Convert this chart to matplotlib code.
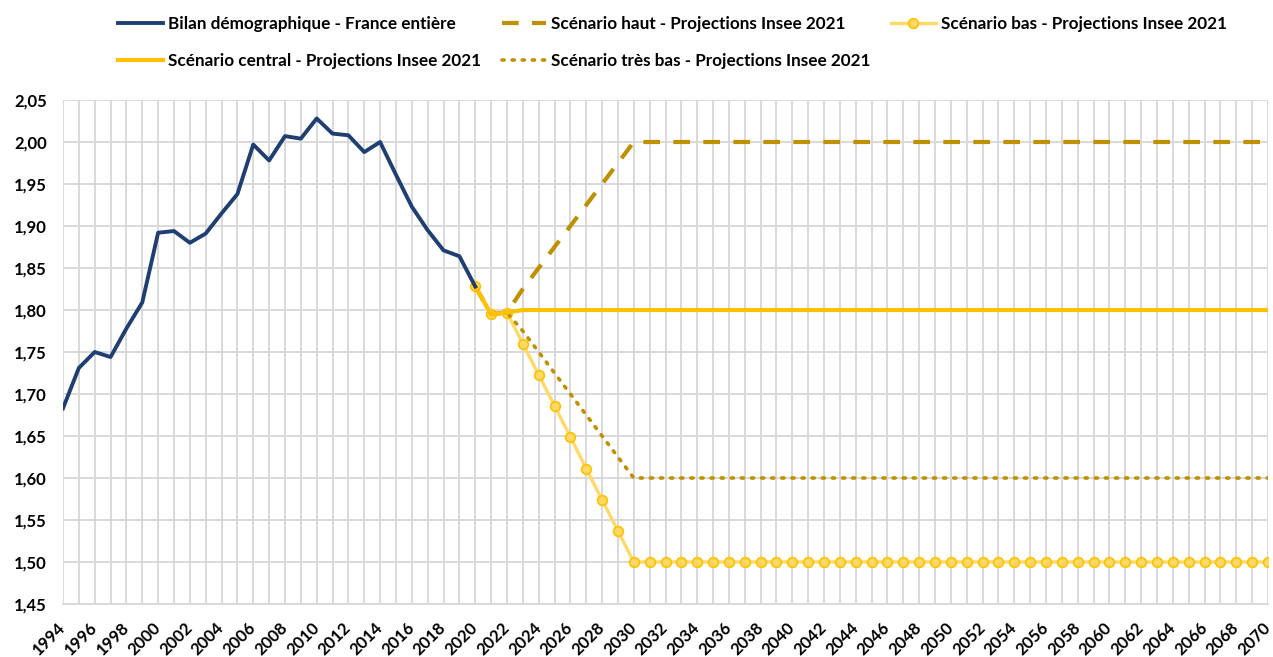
import matplotlib
matplotlib.use("Agg")
import matplotlib.pyplot as plt

plt.rcParams['font.family'] = ['Lato', 'DejaVu Sans']
plt.rcParams['font.weight'] = 'bold'

# ---- data ----
years_hist = list(range(1994, 2021))
bilan = [1.683, 1.731, 1.750, 1.744, 1.778, 1.809, 1.892, 1.894, 1.880, 1.891,
         1.915, 1.938, 1.997, 1.978, 2.007, 2.004, 2.028, 2.010, 2.008, 1.988,
         2.000, 1.961, 1.923, 1.895, 1.871, 1.864, 1.828]

years_proj = list(range(2020, 2071))
n_after = 2070 - 2030
central = [1.828, 1.795, 1.797] + [1.80] * (2070 - 2022)
haut = [1.828, 1.795, 1.797, 1.825, 1.85, 1.875, 1.90, 1.925, 1.95, 1.975, 2.00] + [2.00] * n_after
bas = [1.828, 1.795, 1.797, 1.760, 1.723, 1.686, 1.649, 1.611, 1.574, 1.537, 1.50] + [1.50] * n_after
tres_bas = [1.828, 1.795, 1.797, 1.775, 1.75, 1.725, 1.70, 1.675, 1.65, 1.625, 1.60] + [1.60] * n_after

labels = ["Bilan démographique - France entière",
          "Scénario haut - Projections Insee 2021",
          "Scénario bas - Projections Insee 2021",
          "Scénario central - Projections Insee 2021",
          "Scénario très bas - Projections Insee 2021"]

yticks = [1.45, 1.50, 1.55, 1.60, 1.65, 1.70, 1.75, 1.80, 1.85, 1.90, 1.95, 2.00, 2.05]

# ---- figure ----
fig = plt.figure(figsize=(12.73, 6.57), dpi=100)
W, H = 1273, 657
ax = fig.add_axes([63 / W, 1 - 604 / H, (1268 - 63) / W, (604 - 100) / H])

navy = '#1F3F73'
gold = '#FFC000'
dark_gold = '#BF9000'
light = '#FFD966'

l_bas, = ax.plot(years_proj, bas, color=light, lw=2.4, marker='o', ms=7,
                 mfc=light, mec=gold, mew=1.2, zorder=3, label=labels[2])
l_tb, = ax.plot(years_proj, tres_bas, color=dark_gold, lw=2.6, ls=(0, (0.6, 2.2)),
                dash_capstyle='round', zorder=4, label=labels[4])
l_haut, = ax.plot(years_proj, haut, color=dark_gold, lw=3, ls=(0, (4, 3.2)),
                  zorder=4, label=labels[1])
l_c, = ax.plot(years_proj, central, color=gold, lw=3, zorder=5, label=labels[3])
l_b, = ax.plot(years_hist, bilan, color=navy, lw=2.8, zorder=6, label=labels[0])

ax.set_xlim(1994, 2070)
ax.set_ylim(1.45, 2.05)
ax.set_xticks(range(1994, 2071))
ax.set_xticklabels([str(y) if (y - 1994) % 2 == 0 else '' for y in range(1994, 2071)],
                   rotation=45, ha='right', va='center', rotation_mode='anchor',
                   fontsize=12, fontweight='bold')
ax.set_yticks(yticks)
ax.set_yticklabels([f"{v:.2f}".replace('.', ',') for v in yticks], fontsize=12,
                   fontweight='bold')
ax.tick_params(axis='both', length=0)
ax.tick_params(axis='y', pad=11.5)
ax.tick_params(axis='x', pad=15)
ax.grid(True, color='#D9D9D9', lw=1.4)
ax.set_axisbelow(True)
for s in ax.spines.values():
    s.set_visible(False)
ax.spines['bottom'].set_visible(True)
ax.spines['bottom'].set_color('#D9D9D9')
ax.spines['bottom'].set_linewidth(1.4)

handles = [l_b, l_c, l_haut, l_tb, l_bas]
hl = [h.get_label() for h in handles]
fig.legend(handles, hl, ncol=3, loc='upper left', bbox_to_anchor=(103 / W, 1 - 1 / H),
           frameon=False, handlelength=2.6, handletextpad=0.3,
           columnspacing=1.2, labelspacing=1.2,
           prop={'weight': 'bold', 'size': 12.3})

fig.savefig('out.png', dpi=100)
